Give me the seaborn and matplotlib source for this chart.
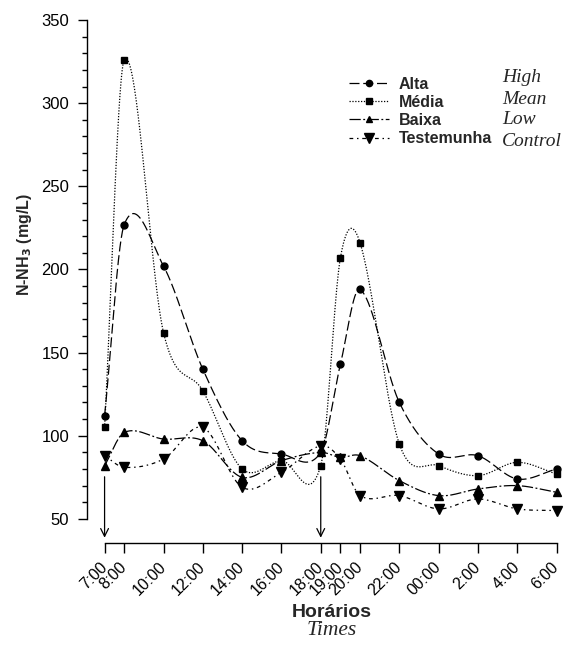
import numpy as np
import pandas as pd
import matplotlib
matplotlib.use("Agg")
import matplotlib.pyplot as plt
from matplotlib.lines import Line2D
import seaborn as sns

# ---- data ----
hours = [7, 8, 10, 12, 14, 16, 18, 19, 20, 22, 24, 26, 28, 30]
tick_labels = ["7:00", "8:00", "10:00", "12:00", "14:00", "16:00", "18:00",
               "19:00", "20:00", "22:00", "00:00", "2:00", "4:00", "6:00"]
alta = [112, 227, 202, 140, 97, 89, 90, 143, 188, 120, 89, 88, 74, 80]
media = [105, 326, 162, 127, 80, 85, 82, 207, 216, 95, 82, 76, 84, 77]
baixa = [82, 102, 98, 97, 75, 85, 90, 87, 88, 73, 64, 68, 70, 66]
testemunha = [88, 81, 86, 105, 69, 78, 94, 86, 64, 64, 56, 62, 56, 55]
labels_pt = ["Alta", "Média", "Baixa", "Testemunha"]
labels_en = ["High", "Mean", "Low", "Control"]
arrow_hours = [7, 18]

sns.set_style("ticks")
plt.rcParams["font.family"] = ["Liberation Sans", "DejaVu Sans"]
SERIF = ["Liberation Serif", "DejaVu Serif"]


def cardinal_spline(x, y, xs):
    """Piecewise cubic Hermite curve with Catmull-Rom style tangents."""
    x = np.asarray(x, float)
    y = np.asarray(y, float)
    n = len(x)
    m = np.zeros(n)
    m[1:-1] = (y[2:] - y[:-2]) / (x[2:] - x[:-2])
    m[0] = (y[1] - y[0]) / (x[1] - x[0])
    m[-1] = (y[-1] - y[-2]) / (x[-1] - x[-2])
    idx = np.clip(np.searchsorted(x, xs) - 1, 0, n - 2)
    h = x[idx + 1] - x[idx]
    t = (xs - x[idx]) / h
    h00 = 2 * t ** 3 - 3 * t ** 2 + 1
    h10 = t ** 3 - 2 * t ** 2 + t
    h01 = -2 * t ** 3 + 3 * t ** 2
    h11 = t ** 3 - t ** 2
    return (h00 * y[idx] + h10 * h * m[idx] + h01 * y[idx + 1]
            + h11 * h * m[idx + 1])


fig = plt.figure(figsize=(5.65, 6.7), dpi=100)
ax = fig.add_axes([86.5 / 565, 1 - 543 / 670, 474 / 565, 523 / 670])

series = [alta, media, baixa, testemunha]
styles = [(0, (8, 3)), (0, (1, 1.3)), (0, (9, 2, 1.5, 2)), (0, (3, 3, 1.2, 3))]
markers = ["o", "s", "^", "v"]
msizes = [5, 4.6, 5.5, 7.5]

xs = np.linspace(hours[0], hours[-1], 1500)
handles = []
for vals, ls, mk, ms, lab in zip(series, styles, markers, msizes, labels_pt):
    ys = cardinal_spline(hours, vals, xs)
    df = pd.DataFrame({"h": xs, "v": ys})
    sns.lineplot(data=df, x="h", y="v", ax=ax, color="black", lw=0.9,
                 linestyle=ls, sort=False, estimator=None)
    ax.plot(hours, vals, linestyle="none", marker=mk, ms=ms, color="black",
            clip_on=False, zorder=5)
    handles.append(Line2D([], [], color="black", lw=0.9, linestyle=ls,
                          marker=mk, ms=ms * 0.9))

for h in arrow_hours:
    ax.annotate("", xy=(h, 37), xytext=(h, 77),
                arrowprops=dict(arrowstyle="->", color="black", lw=0.9,
                                mutation_scale=14))

ax.set_xlim(6.08, 30.2)
ax.set_ylim(35.5, 350)
ax.spines["left"].set_bounds(50, 350)
ax.spines["bottom"].set_bounds(7, 30)
for s in ["top", "right"]:
    ax.spines[s].set_visible(False)
for s in ["left", "bottom"]:
    ax.spines[s].set_linewidth(1.0)
    ax.spines[s].set_color("black")

ax.set_yticks(np.arange(50, 351, 50))
ax.set_yticks(np.arange(50, 351, 10), minor=True)
ax.set_xticks(hours)
ax.set_xticklabels(tick_labels, rotation=45, ha="right", va="center",
                   rotation_mode="anchor")
ax.tick_params(axis="y", which="major", length=6.5, width=1, labelsize=12,
               colors="black", pad=6)
ax.tick_params(axis="y", which="minor", length=3.6, width=1, colors="black")
ax.tick_params(axis="x", which="major", length=7.5, width=1, labelsize=11.5,
               colors="black", pad=8)

ax.set_xlabel("")
ax.set_ylabel("N-NH$_\\mathbf{3}$ (mg/L)", fontsize=11.5, fontweight="bold")
ax.yaxis.set_label_coords(-0.11, 0.57)

ax.text(0.517, -0.132, "Horários", transform=ax.transAxes, ha="center",
        va="center", fontsize=14, fontweight="bold")
ax.text(0.517, -0.168, "Times", transform=ax.transAxes, ha="center",
        va="center", fontsize=15.5, style="italic", family=SERIF)

leg = ax.legend(handles, labels_pt, loc="upper left", frameon=False,
                bbox_to_anchor=(349 / 565, 1 - 77 / 670),
                bbox_transform=fig.transFigure, handlelength=2.5,
                handletextpad=0.63, labelspacing=0.19, borderaxespad=0,
                borderpad=0, prop={"weight": "bold", "size": 11.5})

en_y = [77, 99, 120, 141]
for txt, yy in zip(labels_en, en_y):
    fig.text(502 / 565, 1 - yy / 670, txt, ha="left", va="center",
             fontsize=14, style="italic", family=SERIF)

fig.savefig("out.png", dpi=100)
